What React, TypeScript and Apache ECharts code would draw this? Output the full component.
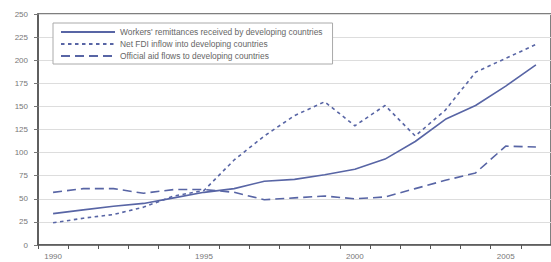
import React, { useEffect, useRef } from "react";
import * as echarts from "echarts";

const years = ["1990","1991","1992","1993","1994","1995","1996","1997","1998","1999","2000","2001","2002","2003","2004","2005","2006"];
const remittances = [34, 38, 42, 45, 51, 57, 61, 69, 71, 76, 82, 93, 112, 136, 151, 172, 195];
const fdi = [24, 29, 33, 41, 53, 59, 92, 118, 140, 155, 129, 151, 118, 146, 187, 202, 217];
const aid = [57, 61, 61, 56, 60, 60, 57, 49, 51, 53, 50, 52, 61, 70, 78, 107, 106];
const seriesNames = [
  "Workers' remittances received by developing countries",
  "Net FDI inflow into developing countries",
  "Official aid flows to developing countries",
];

const COLOR = "#5865a5";
const FONT = "Liberation Sans";

export default function App() {
  const ref = useRef<HTMLDivElement>(null);
  useEffect(() => {
    const chart = echarts.init(ref.current!, null, { renderer: "svg" });
    const mk = (name: string, data: number[], type: any) => ({
      name,
      type: "line",
      data,
      symbol: "none",
      showSymbol: false,
      lineStyle: { color: COLOR, width: 1.6, type },
      itemStyle: { color: COLOR },
    });
    chart.setOption({
      animation: false,
      backgroundColor: "#fff",
      grid: {
        left: 38,
        top: 14,
        bottom: 17,
        right: -2,
        show: true,
        borderColor: "#555",
        borderWidth: 1.5,
        backgroundColor: "transparent",
      },
      legend: {
        orient: "vertical",
        left: 53,
        top: 23,
        padding: [3, 10, 2, 7],
        itemGap: 0,
        itemWidth: 54,
        itemHeight: 8,
        itemStyle: { opacity: 0 },
        backgroundColor: "#fff",
        borderColor: "#aaa",
        borderWidth: 1,
        borderRadius: 0,
        textStyle: { fontFamily: FONT, fontSize: 8.4, color: "#666", lineHeight: 12 },
        data: seriesNames,
      },
      xAxis: {
        type: "category",
        data: years,
        boundaryGap: true,
        axisLine: { show: true, lineStyle: { color: "#555", width: 1.5 } },
        axisTick: { show: true, interval: 0, length: 4, lineStyle: { color: "#555" } },
        axisLabel: { interval: 4, margin: 7, fontFamily: FONT, fontSize: 8, color: "#777" },
        splitLine: { show: false },
      },
      yAxis: {
        type: "value",
        min: 0,
        max: 250,
        interval: 25,
        axisLine: { show: true, lineStyle: { color: "#555", width: 1.5 } },
        axisTick: { show: true, length: 4, lineStyle: { color: "#777" } },
        axisLabel: { margin: 10, fontFamily: FONT, fontSize: 8, color: "#777" },
        splitLine: { show: true, lineStyle: { color: "#ddd", width: 1 } },
      },
      series: [
        mk(seriesNames[0], remittances, "solid"),
        mk(seriesNames[1], fdi, [3.5, 3.5]),
        mk(seriesNames[2], aid, [9, 5]),
      ],
    });
    return () => chart.dispose();
  }, []);
  return (
    <div
      ref={ref}
      style={{ position: "absolute", left: 0, top: 0, width: 551, height: 262 }}
    />
  );
}
